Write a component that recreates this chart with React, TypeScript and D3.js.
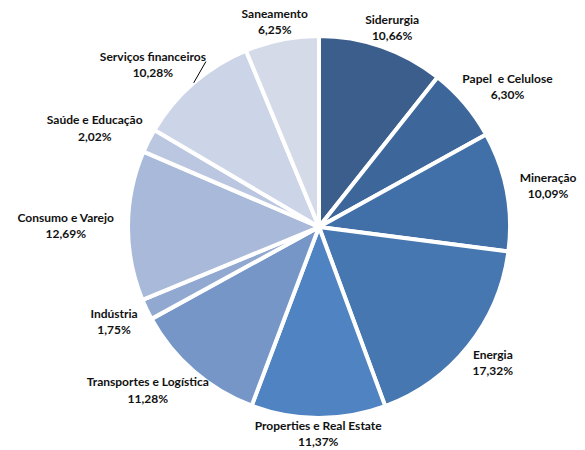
import { useEffect, useRef } from 'react'
import * as d3 from 'd3'

const sectors = [
  'Siderurgia',
  'Papel  e Celulose',
  'Mineração',
  'Energia',
  'Properties e Real Estate',
  'Transportes e Logística',
  'Indústria',
  'Consumo e Varejo',
  'Saúde e Educação',
  'Serviços financeiros',
  'Saneamento',
]
const shares = [10.66, 6.3, 10.09, 17.32, 11.37, 11.28, 1.75, 12.69, 2.02, 10.28, 6.25]
const colors = [
  '#3b5e8c', '#3d669b', '#416fa7', '#4677b1', '#4f83c1', '#7596c7',
  '#91a8d1', '#a9b9d9', '#bbc7e1', '#ccd5e8', '#d4dae8',
]
const leaderFor = ['Serviços financeiros']

const fmt = (v: number) => v.toFixed(2).replace('.', ',') + '%'

export default function App() {
  const svgRef = useRef<SVGSVGElement>(null)

  useEffect(() => {
    if (!svgRef.current) return
    const svg = d3.select(svgRef.current)
    svg.selectAll('*').remove()

    const cx = 319
    const cy = 227
    const r = 191

    const data = sectors.map((name, i) => ({ name, value: shares[i], color: colors[i] }))
    const pie = d3.pie<typeof data[number]>().value(d => d.value).sort(null)
    const arcs = pie(data)
    const arc = d3.arc<d3.PieArcDatum<typeof data[number]>>().innerRadius(0).outerRadius(r)

    const g = svg.append('g').attr('transform', `translate(${cx},${cy})`)

    g.selectAll('path.slice')
      .data(arcs)
      .join('path')
      .attr('class', 'slice')
      .attr('d', arc)
      .attr('fill', d => d.data.color)
      .attr('stroke', '#fff')
      .attr('stroke-width', 4)
      .attr('stroke-linejoin', 'round')

    arcs.forEach(a => {
      const mid = (a.startAngle + a.endAngle) / 2
      const s = Math.sin(mid)
      const c = -Math.cos(mid)
      // labels sit a little further out at the sides than top/bottom
      const pad = 14 * Math.abs(s)
      const t = g.append('text')
        .attr('text-anchor', 'middle')
        .attr('font-family', 'Lato, "Open Sans", sans-serif')
        .attr('font-weight', 700)
        .attr('font-size', 12)
        .attr('fill', '#111')
        .style('white-space', 'pre')
      t.append('tspan').attr('x', 0).attr('dy', '-0.25em').text(a.data.name)
      t.append('tspan').attr('x', 0).attr('dy', '1.35em').text(fmt(a.data.value))
      const box = (t.node() as SVGTextElement).getBBox()
      const hw = box.width / 2
      const hh = box.height / 2
      const ax = (r + pad) * s
      const ay = (r + pad) * c
      const lx = ax + s * hw
      const ly = ay + c * hh
      const oy = box.y + hh
      t.attr('transform', `translate(${lx},${ly - oy})`)

      if (leaderFor.includes(a.data.name)) {
        g.append('line')
          .attr('x1', r * s)
          .attr('y1', r * c)
          .attr('x2', lx + hw)
          .attr('y2', ly - oy - 2)
          .attr('stroke', '#000')
          .attr('stroke-width', 1)
      }
    })
  }, [])

  return (
    <svg
      ref={svgRef}
      width={585}
      height={450}
      style={{ position: 'absolute', left: 0, top: 0, background: '#fff' }}
    />
  )
}
